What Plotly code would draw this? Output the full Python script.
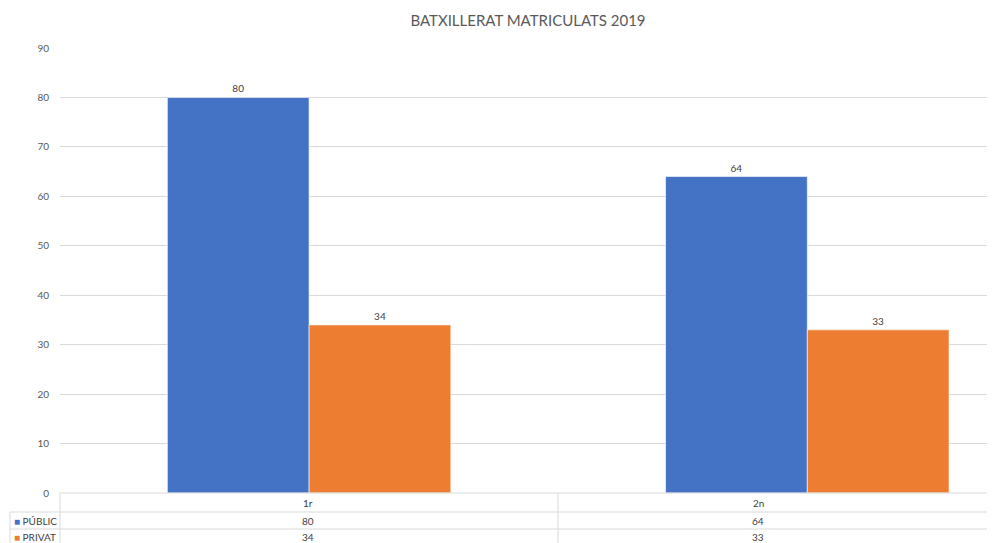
import plotly.graph_objects as go

categories = ["1r", "2n"]
series_names = ["PÚBLIC", "PRIVAT"]
publica = [80, 64]
privat = [34, 33]
colors = ["#4472C4", "#ED7D31"]
title_text = "BATXILLERAT MATRICULATS 2019"

OFF = 8  # page body margin
WIN_W, WIN_H = 995, 543
W, H = WIN_W - OFF, WIN_H - OFF
PL, PT, PB = 60, 48, 493  # plot area edges in window pixels
L = PL - OFF
T = PT - OFF
B = WIN_H - PB
R = 0
plot_w = W - L - R
plot_h = H - T - B

def px_x(px):
    return (px - PL) / plot_w

def px_y(py):
    return (PB - py) / plot_h

xpos = list(range(len(categories)))

fig = go.Figure()
for name, vals, col in zip(series_names, [publica, privat], colors):
    fig.add_trace(go.Bar(
        x=xpos, y=vals, name=name,
        marker=dict(color=col, line=dict(color="rgba(255,255,255,0.6)", width=1)),
        text=[str(v) for v in vals], textposition="outside",
        textfont=dict(size=10, color="#404040", family="Lato, Carlito, sans-serif"),
        cliponaxis=False,
    ))

grid = "#d9d9d9"
shapes = []
shapes.append(dict(type="line", xref="paper", yref="paper", x0=0, x1=1, y0=px_y(493), y1=px_y(493), line=dict(color=grid, width=1)))
for py in (512, 529):
    shapes.append(dict(type="line", xref="paper", yref="paper", x0=px_x(10), x1=1, y0=px_y(py), y1=px_y(py), line=dict(color=grid, width=1)))
shapes.append(dict(type="line", xref="paper", yref="paper", x0=0, x1=0, y0=px_y(493), y1=px_y(543), line=dict(color=grid, width=1)))
shapes.append(dict(type="line", xref="paper", yref="paper", x0=px_x(558), x1=px_x(558), y0=px_y(493), y1=px_y(543), line=dict(color=grid, width=1)))
shapes.append(dict(type="line", xref="paper", yref="paper", x0=px_x(10), x1=px_x(10), y0=px_y(512), y1=px_y(543), line=dict(color=grid, width=1)))

font_t = dict(size=10, color="#404040", family="Lato, Carlito, sans-serif")
annotations = []
col_centers = [px_x(308), px_x(758)]
row_y = [px_y(503), px_y(520.5), px_y(536.5)]
for i, cat in enumerate(categories):
    annotations.append(dict(x=col_centers[i], y=row_y[0], xref="paper", yref="paper", text=cat, showarrow=False, font=font_t, xanchor="center", yanchor="middle"))
    for r, vals in enumerate([publica, privat]):
        annotations.append(dict(x=col_centers[i], y=row_y[r + 1], xref="paper", yref="paper", text=str(vals[i]), showarrow=False, font=font_t, xanchor="center", yanchor="middle"))
for r, (name, col) in enumerate(zip(series_names, colors)):
    annotations.append(dict(x=px_x(12), y=row_y[r + 1], xref="paper", yref="paper",
                            text=f"<span style='color:{col}'>■</span> {name}", showarrow=False,
                            font=font_t, xanchor="left", yanchor="middle"))

fig.update_layout(
    width=W, height=H,
    margin=dict(l=L, r=R, t=T, b=B, pad=0),
    paper_bgcolor="white", plot_bgcolor="white",
    title=dict(text=title_text, x=(528 - OFF) / W, xanchor="center", y=1 - (21 - OFF) / H, yanchor="middle",
               font=dict(size=15, color="#595959", family="Lato, Carlito, sans-serif")),
    barmode="group", bargap=0.431, bargroupgap=0,
    showlegend=False,
    xaxis=dict(range=[-0.5, (995 - 308) / 499], showticklabels=False, showgrid=False, zeroline=False, showline=False, ticks=""),
    yaxis=dict(range=[0, 90], dtick=10, tick0=0, gridcolor=grid, gridwidth=1, zeroline=False, showline=False,
               tickfont=dict(size=10, color="#595959", family="Lato, Carlito, sans-serif"), ticks="", ticklabelstandoff=10),
    shapes=shapes, annotations=annotations,
)

fig.write_html("out.html")
